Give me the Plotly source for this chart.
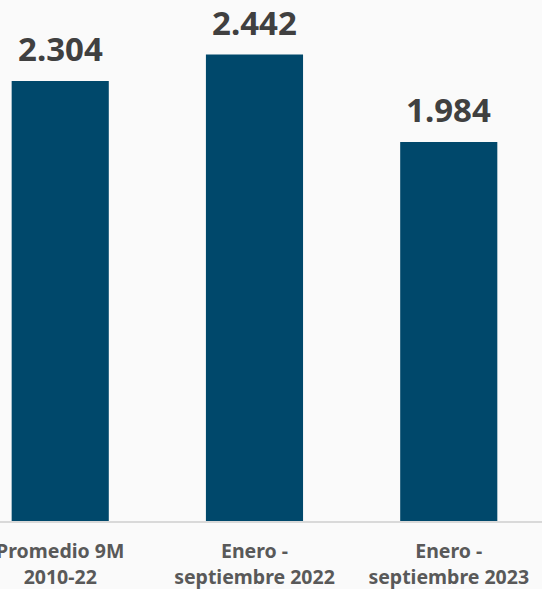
import plotly.graph_objects as go

categories = ["Promedio 9M<br>2010-22", "Enero -<br>septiembre 2022", "Enero -<br>septiembre 2023"]
values = [2304, 2442, 1984]
value_labels = ["2.304", "2.442", "1.984"]

bar_color = "#00486B"
bg = "#FAFAFA"
font_family = "Noto Sans, Lato, sans-serif"

fig = go.Figure()
fig.add_trace(go.Bar(
    x=categories, y=values, marker=dict(color=bar_color, line=dict(width=0)),
    width=0.5, hoverinfo="skip",
))

for c, v, t in zip(categories, values, value_labels):
    fig.add_annotation(
        x=c, y=v, text=t, showarrow=False, yanchor="bottom", yshift=8,
        font=dict(family=font_family, size=33, color="#404040", weight="bold"),
    )

fig.update_layout(
    width=542, height=589,
    margin=dict(l=0, r=0, t=0, b=68, pad=0, autoexpand=False),
    paper_bgcolor=bg, plot_bgcolor=bg,
    showlegend=False,
    bargap=0.5,
)
fig.update_xaxes(
    range=[-0.31, 2.48], showgrid=False, zeroline=False, automargin=False,
    showline=True, linecolor="#D9D9D9", linewidth=2,
    ticks="outside", ticklen=12, tickcolor="rgba(0,0,0,0)",
    tickfont=dict(family=font_family, size=19.5, color="#595959", weight="bold"),
)
fig.update_yaxes(range=[0, 2728], visible=False, showgrid=False, zeroline=False, automargin=False)

fig.write_html(
    "out.html",
    config={"displayModeBar": False, "staticPlot": True},
    post_script="document.body.style.margin='0';document.body.style.background='#FAFAFA';",
)
